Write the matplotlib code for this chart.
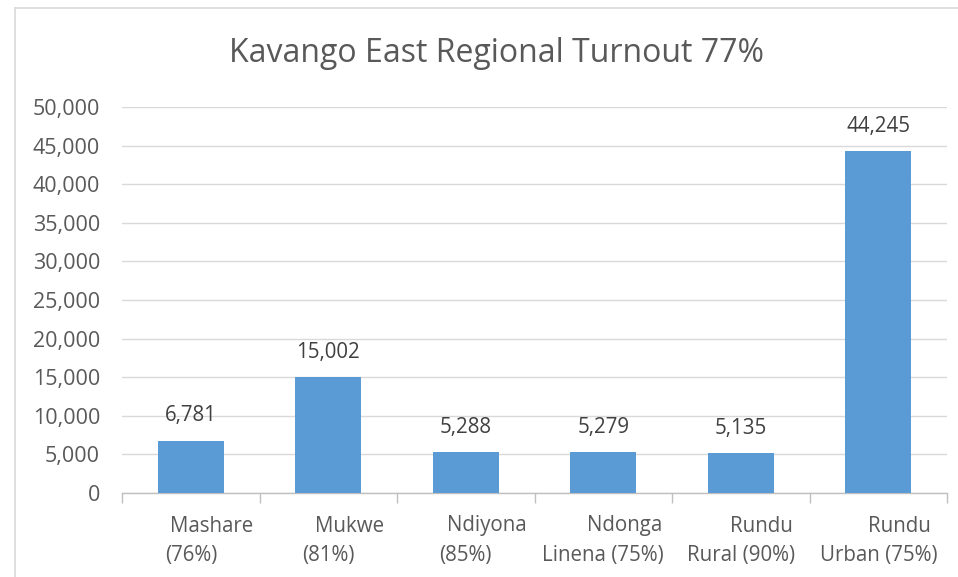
import matplotlib
matplotlib.use("Agg")
import matplotlib.pyplot as plt
from matplotlib.ticker import FuncFormatter, MultipleLocator
from matplotlib.lines import Line2D

names = ["Mashare", "Mukwe", "Ndiyona", "Ndonga", "Rundu", "Rundu"]
pcts = ["(76%)", "(81%)", "(85%)", "Linena (75%)", "Rural (90%)", "Urban (75%)"]
votes = [6781, 15002, 5288, 5279, 5135, 44245]
title = "Kavango East Regional Turnout 77%"

plt.rcParams['font.family'] = ['Open Sans', 'DejaVu Sans']
W, H = 958, 577
PX = 72 / 100  # points per pixel
fig = plt.figure(figsize=(W / 100, H / 100), dpi=100)
ax = fig.add_axes([122 / W, 1 - 493 / H, (947 - 122) / W, (493 - 107) / H])

txt = "#595959"
x = list(range(len(votes)))
ax.bar(x, votes, width=0.48, color="#5B9BD5", zorder=3)
for xi, v in zip(x, votes):
    ax.annotate(f"{v:,}", (xi, v), xytext=(0, 25 * PX), textcoords="offset points",
                ha="center", va="center", fontsize=14.8, color="#404040")

ax.set_xlim(-0.5, len(votes) - 0.5)
ax.set_ylim(0, 50000)
ax.yaxis.set_major_locator(MultipleLocator(5000))
ax.yaxis.set_major_formatter(FuncFormatter(lambda v, p: f"{int(v):,}"))
ax.grid(axis="y", color="#D9D9D9", linewidth=1, zorder=0)
for s in ["top", "right", "left"]:
    ax.spines[s].set_visible(False)
ax.spines["bottom"].set_color("#BFBFBF")
ax.spines["bottom"].set_linewidth(1)
ax.tick_params(axis="y", length=0, labelsize=15.5, labelcolor=txt, pad=22 * PX)

ax.set_xticks(x)
ax.set_xticklabels([""] * len(x))
ax.tick_params(axis="x", which="major", length=0)
ax.set_xticks([i - 0.5 for i in range(len(votes) + 1)], minor=True)
ax.tick_params(axis="x", which="minor", length=7, color="#BFBFBF", width=1)

for xi, n, p in zip(x, names, pcts):
    ax.annotate(n, (xi, 0), xycoords=("data", "axes fraction"),
                xytext=(21 * PX, -33 * PX), textcoords="offset points",
                ha="center", va="center", fontsize=14.8, color=txt, annotation_clip=False)
    ax.annotate(p, (xi, 0), xycoords=("data", "axes fraction"),
                xytext=(0, -62 * PX), textcoords="offset points",
                ha="center", va="center", fontsize=14.8, color=txt, annotation_clip=False)

fig.text(497 / W, 1 - 53 / H, title, ha="center", va="center", fontsize=23, color=txt)

fig.add_artist(Line2D([15 / W, 15 / W], [0, 1 - 8 / H], transform=fig.transFigure, color="#D9D9D9", lw=1.2))
fig.add_artist(Line2D([15 / W, 1], [1 - 8 / H, 1 - 8 / H], transform=fig.transFigure, color="#D9D9D9", lw=1.2))

fig.savefig("out.png", dpi=100)
